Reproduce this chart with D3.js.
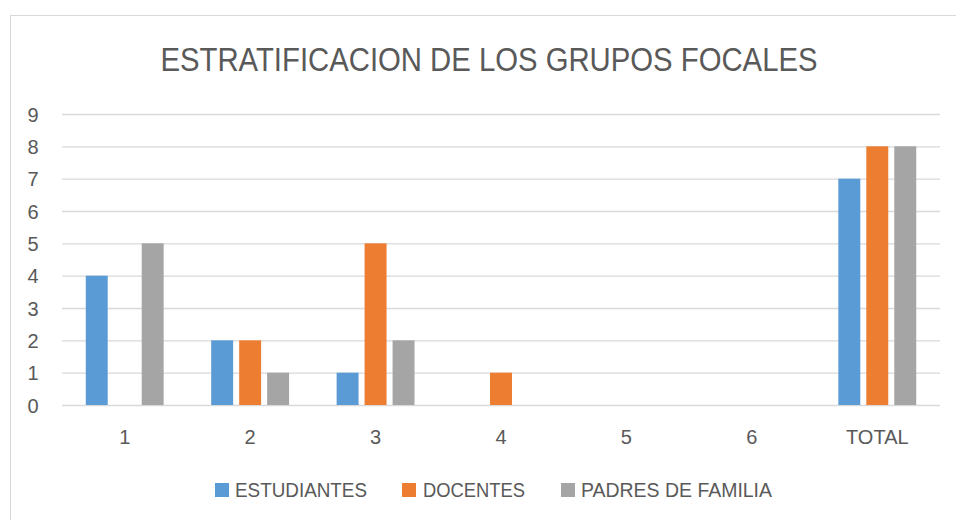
<!DOCTYPE html>
<html><head><meta charset="utf-8">
<script src="https://cdn.jsdelivr.net/npm/d3@7"></script>
<style>body{margin:0;background:#fff;} svg{display:block;font-family:"Liberation Sans",Arial,sans-serif;}</style>
</head><body>
<script>
const categories = ["1","2","3","4","5","6","TOTAL"];
const seriesNames = ["ESTUDIANTES","DOCENTES","PADRES DE FAMILIA"];
const estudiantes = [4,2,1,0,0,0,7];
const docentes = [0,2,5,1,0,0,8];
const padres = [5,1,2,0,0,0,8];
const yTicks = [0,1,2,3,4,5,6,7,8,9];
const colors = ["#5B9BD5","#ED7D31","#A5A5A5"];
const title = "ESTRATIFICACION DE LOS GRUPOS FOCALES";

(function(){
const W=956,H=520;
const svg=d3.select("body").append("svg").attr("width",W).attr("height",H);
svg.append("rect").attr("x",10.5).attr("y",15.5).attr("width",W).attr("height",H).attr("fill","#fff").attr("stroke","#d9d9d9").attr("stroke-width",1);

const pl=62,pr=940,pt=114,pb=405;
const x=d3.scaleBand().domain(categories).range([pl,pr]);
const y=d3.scaleLinear().domain([0,9]).range([pb,pt]);

svg.append("text").attr("x",489).attr("y",71).attr("text-anchor","middle")
  .attr("font-size",33).attr("fill","#595959").attr("textLength",657).attr("lengthAdjust","spacingAndGlyphs").text(title);

const yAxis=d3.axisLeft(y).tickValues(yTicks).tickSize(-(pr-pl)).tickFormat(d3.format("d"));
const ga=svg.append("g").attr("transform",`translate(${pl},0)`).call(yAxis);
ga.select(".domain").remove();
ga.selectAll(".tick line").attr("stroke","#d9d9d9").attr("stroke-width",1.3);
ga.selectAll(".tick text").attr("x",-29).attr("dy","0.36em").attr("text-anchor","middle").attr("font-size",20).attr("fill","#595959").attr("font-family","Liberation Sans, Arial, sans-serif");

const xAxis=d3.axisBottom(x).tickSize(0);
const gx=svg.append("g").attr("transform",`translate(0,${pb})`).call(xAxis);
gx.select(".domain").remove();
gx.selectAll(".tick text").attr("dy",0).attr("y",39).attr("font-size",20).attr("fill","#595959").attr("font-family","Liberation Sans, Arial, sans-serif");

const series=[estudiantes,docentes,padres];
const bw=x.bandwidth()*0.175, step=x.bandwidth()*0.223;
series.forEach((vals,si)=>{
  svg.append("g").selectAll("rect").data(vals).join("rect")
    .attr("x",(d,i)=>x(categories[i])+x.bandwidth()/2+(si-1)*step-bw/2)
    .attr("y",d=>y(d)).attr("width",bw).attr("height",d=>y(0)-y(d))
    .attr("fill",colors[si]);
});

const legX=[215,402,561], legT=[235,423,581], legW=[132,102,191];
const lg=svg.append("g");
seriesNames.forEach((n,i)=>{
  lg.append("rect").attr("x",legX[i]).attr("y",483).attr("width",14).attr("height",14).attr("fill",colors[i]);
  lg.append("text").attr("x",legT[i]).attr("y",497).attr("font-size",20).attr("fill","#595959")
    .attr("textLength",legW[i]).attr("lengthAdjust","spacingAndGlyphs").text(n);
});
})();
</script>
</body></html>
